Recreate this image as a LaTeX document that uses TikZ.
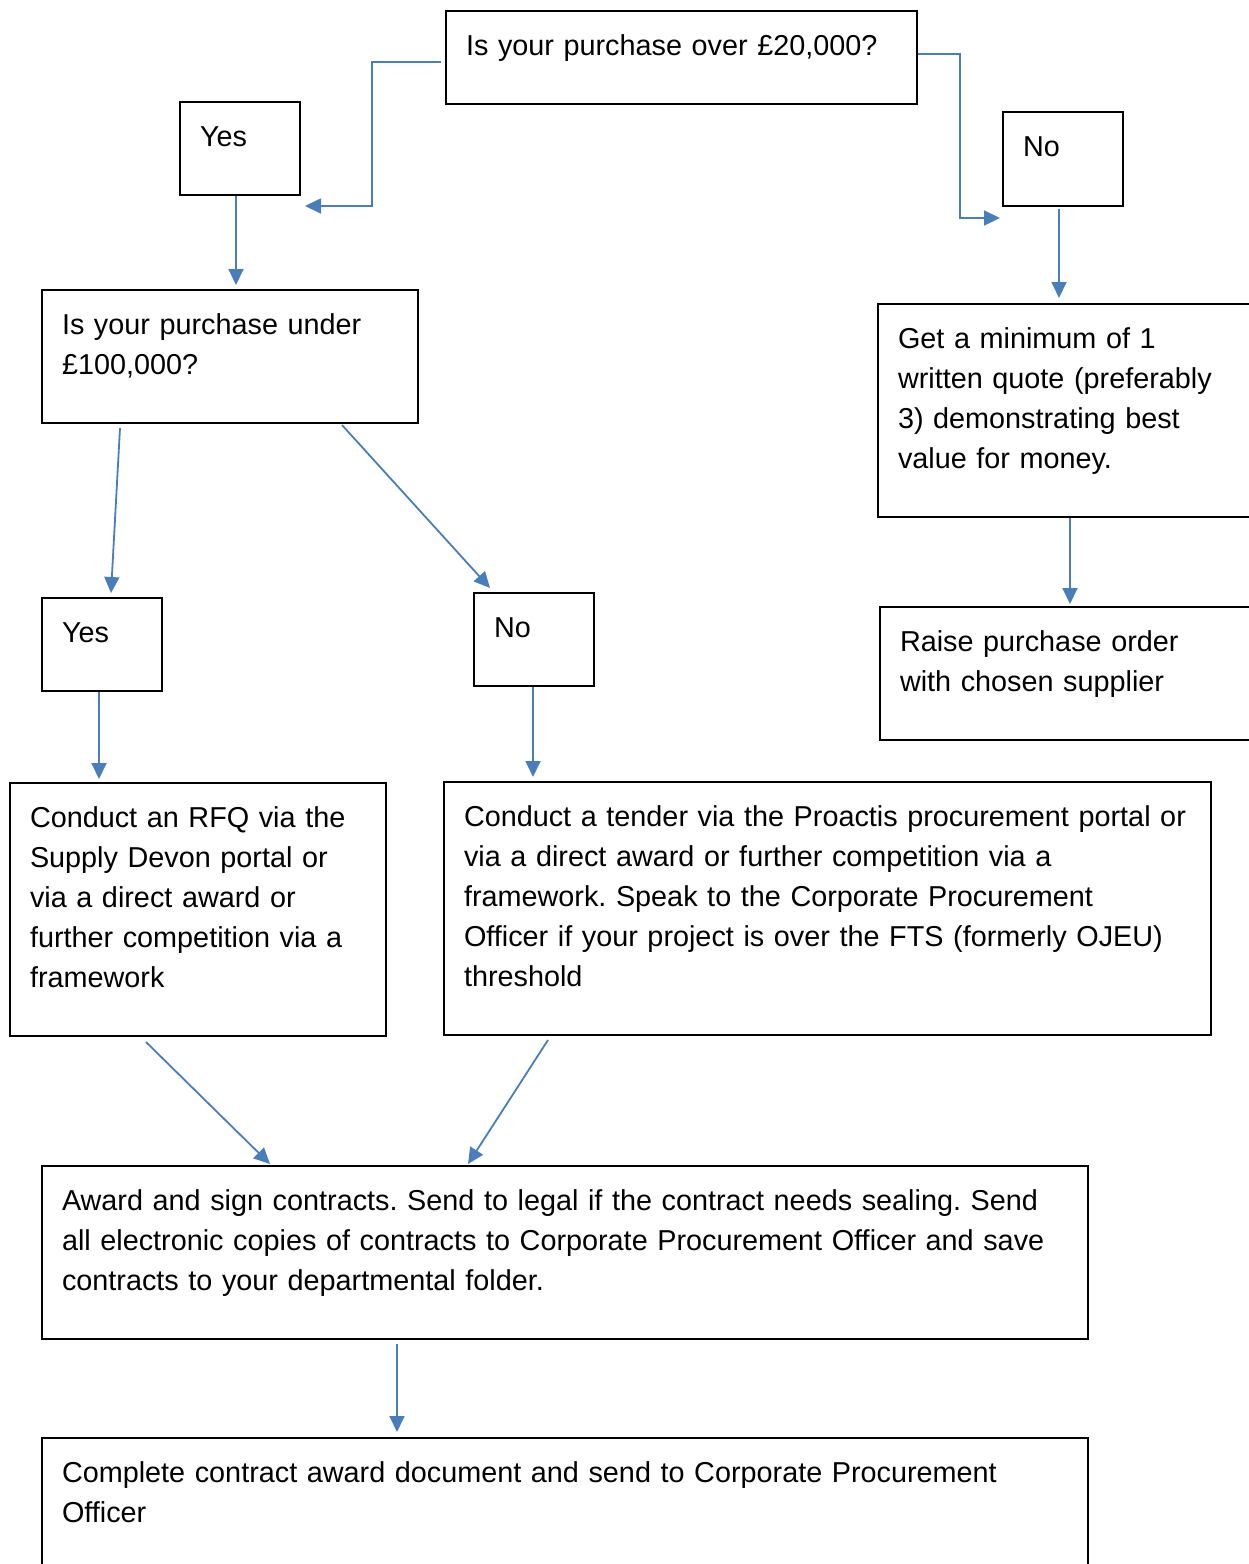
\documentclass[tikz,border=0pt]{standalone}
\usepackage{fontspec}
\setmainfont{Liberation Sans}
\usetikzlibrary{arrows.meta,calc}
\definecolor{linkblue}{RGB}{74,126,187}
\frenchspacing
\newcommand{\boxlines}[1]{\begin{tabular}[t]{@{}l@{}}#1\end{tabular}}

\begin{document}
\begin{tikzpicture}[x=0.5pt,y=-0.5pt,box/.style={draw,line width=1pt,anchor=north west,inner xsep=10pt,inner ysep=8pt,text height=14pt,font=\fontsize{14.4pt}{20pt}\selectfont},link/.style={linkblue,line width=0.9pt,-{Triangle[length=8pt,width=7.5pt]}}]
\useasboundingbox (0,0) rectangle (1248,1564);
\node[box,text width=215.5pt,text depth=16.5pt] (q1) at (445,10) {\boxlines{Is your purchase over £20,000?}};
\node[box,text width=40pt,text depth=16.5pt] (yes1) at (179,101) {\boxlines{Yes}};
\node[box,text width=40pt,text depth=17pt] (no1) at (1002,111) {\boxlines{No}};
\node[box,text width=168pt,text depth=36.5pt] (q2) at (41,289) {\boxlines{Is your purchase under\\£100,000?}};
\node[box,text width=169.5pt,text depth=76.5pt] (quote) at (877,303) {\boxlines{Get a minimum of 1\\written quote (preferably\\3) demonstrating best\\value for money.}};
\node[box,text width=168.5pt,text depth=36.5pt] (raise) at (879,606) {\boxlines{Raise purchase order\\with chosen supplier}};
\node[box,text width=40pt,text depth=16.5pt] (yes2) at (41,597) {\boxlines{Yes}};
\node[box,text width=40pt,text depth=16.5pt] (no2) at (473,592) {\boxlines{No}};
\node[box,text width=168pt,text depth=96.5pt] (rfq) at (9,782) {\boxlines{Conduct an RFQ via the\\Supply Devon portal or\\via a direct award or\\further competition via a\\framework}};
\node[box,text width=363.5pt,text depth=96.5pt] (tender) at (443,781) {\boxlines{Conduct a tender via the Proactis procurement portal or\\via a direct award or further competition via a\\framework. Speak to the Corporate Procurement\\Officer if your project is over the FTS (formerly OJEU)\\threshold}};
\node[box,text width=503pt,text depth=56.5pt] (award) at (41,1165) {\boxlines{Award and sign contracts. Send to legal if the contract needs sealing. Send\\all electronic copies of contracts to Corporate Procurement Officer and save\\contracts to your departmental folder.}};
\node[box,text width=503pt,text depth=41.5pt] (complete) at (41,1437) {\boxlines{Complete contract award document and send to Corporate Procurement\\Officer}};
\draw[link] ($(q1.north west)+(-4,52)$) -- ++(-69,0) |- ($(yes1.north east)+(4,105)$);
\draw[link] ($(q1.north east)+(0,44)$) -- ++(42,0) |- ($(no1.north west)+(-2,107)$);
\draw[link] ($(yes1.south west)+(57,0)$) -- ($(q2.north west)+(195,-4)$);
\draw[link] ($(no1.south west)+(57,2)$) -- ($(quote.north west)+(182,-5)$);
\draw[link] ($(q2.south west)+(79,4)$) -- ($(yes2.north west)+(70,-4)$);
\draw[link] ($(q2.south west)+(301,1)$) -- ($(no2.north west)+(17,-4)$);
\draw[link] ($(quote.south west)+(193,0)$) -- ($(raise.north west)+(191,-2)$);
\draw[link] ($(yes2.south west)+(58,0)$) -- ($(rfq.north west)+(90,-3)$);
\draw[link] ($(no2.south west)+(60,0)$) -- ($(tender.north west)+(90,-4)$);
\draw[link] ($(rfq.south west)+(137,5)$) -- ($(award.north west)+(229,-1)$);
\draw[link] ($(tender.south west)+(105,4)$) -- ($(award.north west)+(427,-1)$);
\draw[link] ($(award.south west)+(356,4)$) -- ($(complete.north west)+(356,-5)$);
\end{tikzpicture}
\end{document}
